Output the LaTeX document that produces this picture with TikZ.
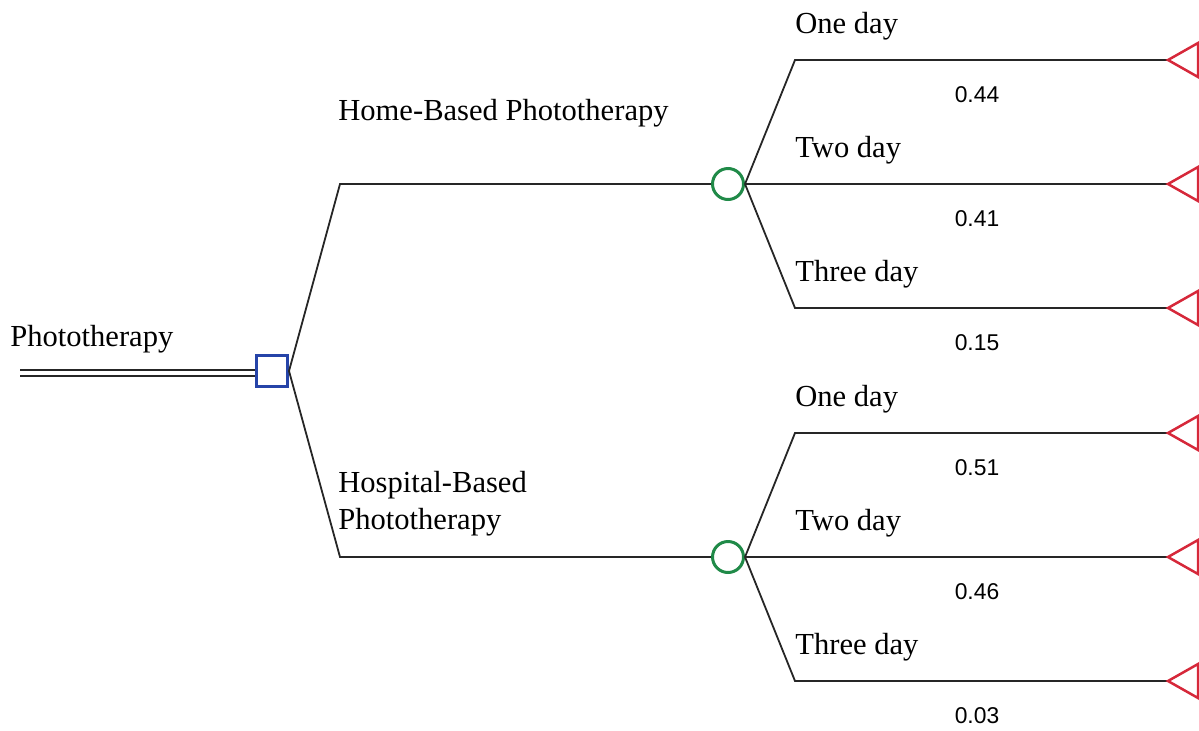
\documentclass[tikz,border=0pt]{standalone}
\usepackage{fontspec}
\setmainfont{Liberation Serif}
\setsansfont{Liberation Sans}
\definecolor{decblue}{RGB}{38,68,168}
\definecolor{chgreen}{RGB}{32,138,72}
\definecolor{endred}{RGB}{214,40,58}

\begin{document}
\begin{tikzpicture}[
x=0.02cm, y=-0.02cm,
  line/.style = {draw=black!85, line width=0.036cm},
decision/.style = {rectangle, draw=decblue, line width=0.06cm,
                   minimum size=0.62cm, inner sep=0pt},% decision node
  chance/.style = {circle, draw=chgreen, line width=0.06cm,
                   minimum size=0.62cm, inner sep=0pt},% chance nodes
    term/.style = {draw=endred, line width=0.05cm, line join=miter},
     lbl/.style = {anchor=west, inner sep=0pt, align=left,
                   font=\fontsize{17.4}{21}\selectfont},
    prob/.style = {inner sep=0pt, font=\sffamily\fontsize{13}{15}\selectfont},
                        ]
\useasboundingbox (0,0) rectangle (1199,730);
% decision and chance nodes
\node[decision] (dec)  at (272,371) {};
\node[chance]   (home) at (728,184) {};
\node[chance]   (hosp) at (728,557) {};
\coordinate (root) at (20,373);
\coordinate (kh) at (340,184);
\coordinate (kp) at (340,557);
\draw[line, double, double distance=0.07cm] (root) -- (dec.west |- root);
\draw[line] (dec.east) -- (kh) -- (home.west);
\draw[line] (dec.east) -- (kp) -- (hosp.west);
\node[lbl] (l0) at (10,339) {Phototherapy};
\node[lbl] (l1) at (338,113) {Home-Based Phototherapy};
\node[lbl] (l2) at (338,504) {Hospital-Based\\Phototherapy};
% outcomes
\foreach \c/\n/\y/\t/\p in {home/1/60/One day/0.44, home/2/184/Two day/0.41,
                            home/3/308/Three day/0.15, hosp/4/433/One day/0.51,
                            hosp/5/557/Two day/0.46, hosp/6/681/Three day/0.03}
{
  \coordinate (k\n) at (795,\y);
  \coordinate (e\n) at (1168,\y);
  \draw[line] (\c.east) -- (k\n) -- (e\n);
  \draw[term] (e\n) -- ++(30,-17) -- ++(0,34) -- cycle;
  \node[lbl]  (d\n) at (795,\y-34) {\t};
  \node[prob] (p\n) at (977,\y+35) {\p};
}
\end{tikzpicture}
\end{document}
